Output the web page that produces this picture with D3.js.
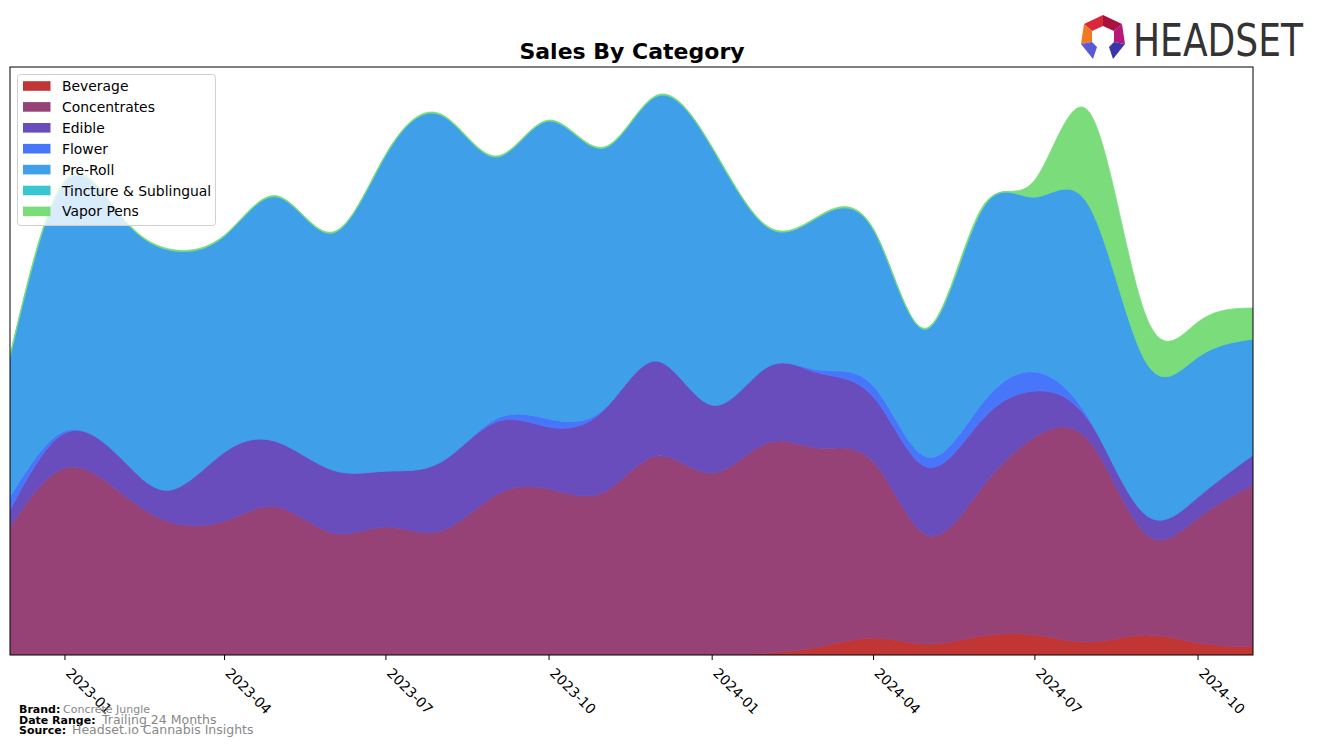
<!DOCTYPE html>
<html>
<head>
<meta charset="utf-8">
<script src="https://cdn.jsdelivr.net/npm/d3@7"></script>
<style>
  html, body { margin: 0; padding: 0; background: #fff; }
  svg { display: block; font-family: "DejaVu Sans", sans-serif; }
</style>
</head>
<body>
<svg id="chart" width="1317" height="747"></svg>
<script>
// ---- data ----
const months = ["2022-12","2023-01","2023-02","2023-03","2023-04","2023-05","2023-06","2023-07",
  "2023-08","2023-09","2023-10","2023-11","2023-12","2024-01","2024-02","2024-03","2024-04",
  "2024-05","2024-06","2024-07","2024-08","2024-09","2024-10","2024-11"];
const categories = ["Beverage","Concentrates","Edible","Flower","Pre-Roll","Tincture & Sublingual","Vapor Pens"];
const beverage     = [0,0,0,0,0,0,0,0,0,0,0,0,0,0,2,8,17,11,19,20,13,20,12,8];
const concentrates = [128,187,163,133,134,148,122,128,124,160,166,163,199,182,210,199,176,109,148,198,200,102,125,162];
const edible       = [17,35,35,32,69,65,63,56,69,73,62,82,95,68,76,75,65,68,68,46,20,19,21,30];
const flower       = [13,2,0,0,0,0,0,0,0,3,8,1,0,0,0,3,11,10,16,19,2,0,0,0];
const preRoll      = [140,249,242,240,216,245,237,316,347,262,298,261,265,257,140,153,156,128,194,175,213,154,140,116];
const tincture     = [0,0,0,0,0,0,0,0,0,0,0,0,0,0,0,0,0,0,0,0,0,0,0,0];
const vaporPens    = [2,2,1,1,1,1,1,1,1,1,1,1,1,1,1,1,1,1,2,17,94,47,35,31];
const tickLabels   = ["2023-01","2023-04","2023-07","2023-10","2024-01","2024-04","2024-07","2024-10"];
const colors = ["#c13535","#974277","#6a4dbd","#4876fb","#3f9fe8","#38c6d0","#7bdc7b"];

// ---- build table ----
const parse = d3.timeParse("%Y-%m");
const seriesArr = [beverage, concentrates, edible, flower, preRoll, tincture, vaporPens];
const table = months.map((m, i) => {
  const row = { date: parse(m) };
  categories.forEach((c, k) => row[c] = seriesArr[k][i]);
  return row;
});

const svg = d3.select("#chart");
const L = 10, R = 1253, T = 67, B = 655;

const x = d3.scaleTime()
  .domain([parse(months[0]), parse(months[months.length - 1])])
  .range([L, R]);

const stacked = d3.stack().keys(categories)(table);
const maxTotal = d3.max(table, d => categories.reduce((s, c) => s + d[c], 0));
const y = d3.scaleLinear().domain([0, maxTotal * 1.05]).range([B, T]);

svg.append("defs").append("clipPath").attr("id", "plotclip")
  .append("rect").attr("x", L).attr("y", T).attr("width", R - L).attr("height", B - T);

const area = d3.area()
  .x(d => x(d.data.date))
  .y0(d => y(d[0]))
  .y1(d => y(d[1]))
  .curve(d3.curveNatural);

const g = svg.append("g").attr("clip-path", "url(#plotclip)");
g.selectAll("path.layer")
  .data(stacked)
  .join("path")
  .attr("class", "layer")
  .attr("d", area)
  .attr("fill", (d, i) => colors[i])
  .attr("stroke", (d, i) => colors[i])
  .attr("stroke-width", 0.8);

// frame
svg.append("rect").attr("x", L).attr("y", T).attr("width", R - L).attr("height", B - T)
  .attr("fill", "none").attr("stroke", "#000").attr("stroke-width", 1);

// x axis ticks + labels
const tickDates = tickLabels.map(parse);
const fmt = d3.timeFormat("%Y-%m");
const ax = svg.append("g");
tickDates.forEach(d => {
  const tx = x(d);
  ax.append("line").attr("x1", tx).attr("x2", tx).attr("y1", B).attr("y2", B + 5)
    .attr("stroke", "#000").attr("stroke-width", 1);
  ax.append("text")
    .attr("transform", `translate(${tx},${B + 19}) rotate(45)`)
    .attr("font-size", "13.9px").attr("fill", "#000")
    .text(fmt(d));
});

// title
svg.append("text").attr("x", 632).attr("y", 59).attr("text-anchor", "middle")
  .attr("font-size", "22px").attr("font-weight", "bold").text("Sales By Category");

// legend
const lg = svg.append("g");
lg.append("rect").attr("x", 17.5).attr("y", 74.5).attr("width", 198).attr("height", 151)
  .attr("rx", 3).attr("fill", "#fff").attr("fill-opacity", 0.8)
  .attr("stroke", "#d0d0d0").attr("stroke-width", 1);
categories.forEach((c, i) => {
  const cy = 86 + i * 20.9;
  lg.append("rect").attr("x", 23).attr("y", cy - 4.8).attr("width", 27.5).attr("height", 9.6)
    .attr("fill", colors[i]);
  lg.append("text").attr("x", 62).attr("y", cy + 5).attr("font-size", "13.9px")
    .attr("fill", "#000").text(c);
});

// footer
const foot = [
  { label: "Brand:", value: "Concrete Jungle", y: 713, vx: 63, vs: "11px" },
  { label: "Date Range:", value: "Trailing 24 Months", y: 724, vx: 102, vs: "12.5px" },
  { label: "Source:", value: "Headset.io Cannabis Insights", y: 734, vx: 72, vs: "12.5px" }
];
foot.forEach(f => {
  svg.append("text").attr("x", 19).attr("y", f.y).attr("font-size", "11px")
    .attr("font-weight", "bold").attr("fill", "#000").text(f.label);
  svg.append("text").attr("x", f.vx).attr("y", f.y).attr("font-size", f.vs)
    .attr("fill", "#888").text(f.value);
});

// Headset logo
const logo = svg.append("g");
const facets = [
  { p: [[1084,24],[1103,15],[1103,26],[1092,31]], c: "#d8283a" },
  { p: [[1103,15],[1122,24],[1114,31],[1103,26]], c: "#a8123e" },
  { p: [[1084,24],[1092,31],[1092,42],[1081,44]], c: "#f07a22" },
  { p: [[1122,24],[1125,44],[1114,42],[1114,31]], c: "#b8177a" },
  { p: [[1081,44],[1092,42],[1097,47],[1093,59]], c: "#5a5ad6" },
  { p: [[1125,44],[1114,42],[1109,47],[1113,59]], c: "#3a36a8" }
];
facets.forEach(f => {
  logo.append("polygon").attr("points", f.p.map(q => q.join(",")).join(" ")).attr("fill", f.c);
});
logo.append("text").attr("x", 1133).attr("y", 56).attr("font-size", "44px")
  .attr("fill", "#333").attr("textLength", 170).attr("lengthAdjust", "spacingAndGlyphs")
  .text("HEADSET");
</script>
</body>
</html>
